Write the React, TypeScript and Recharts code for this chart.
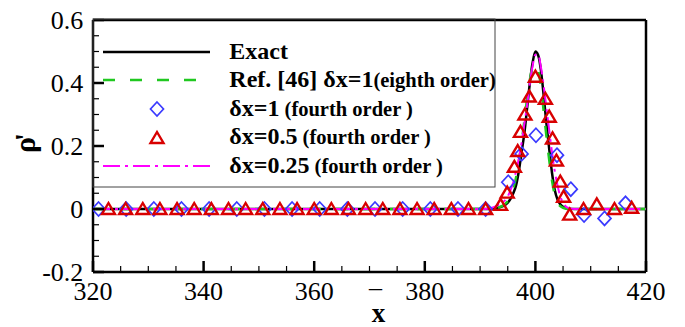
import React from 'react';
import { ComposedChart, Line, Scatter, XAxis, YAxis, ReferenceLine, Legend } from 'recharts';

const FONT = '"Liberation Serif", "Times New Roman", serif';

// Exact solution
const exactX = [320, 392, 393, 394, 395, 395.5, 396, 396.5, 397, 397.5, 398, 398.5, 399, 399.5, 400, 400.5, 401, 401.5, 402, 402.5, 403, 403.5, 404, 404.5, 405, 406, 407, 420];
const exactY = [0, 0, 0.002, 0.008, 0.02, 0.032, 0.05, 0.075, 0.12, 0.18, 0.24, 0.32, 0.4, 0.465, 0.5, 0.488, 0.44, 0.36, 0.27, 0.19, 0.115, 0.06, 0.03, 0.015, 0.007, 0.002, 0, 0];

// Ref. [46] dx=1 (eighth order)
const refX = [320, 392, 393, 394, 395, 395.5, 396, 396.5, 397, 397.5, 398, 398.5, 399, 399.5, 400, 400.5, 401, 401.5, 402, 402.5, 403, 403.5, 404, 405, 406, 420];
const refY = [0, 0, 0.003, 0.01, 0.025, 0.04, 0.065, 0.1, 0.15, 0.21, 0.28, 0.35, 0.41, 0.45, 0.46, 0.44, 0.39, 0.31, 0.23, 0.155, 0.09, 0.045, 0.02, 0.004, 0, 0];

// dx=0.25 (fourth order)
const q25X = [320, 391, 392, 393, 394, 395, 395.5, 396, 396.5, 397, 397.5, 398, 398.5, 399, 399.5, 400, 400.5, 401, 401.5, 402, 402.5, 403, 403.5, 404, 404.5, 405, 405.5, 406, 407, 420];
const q25Y = [0, 0, 0.003, 0.01, 0.02, 0.04, 0.06, 0.085, 0.12, 0.16, 0.21, 0.27, 0.33, 0.4, 0.455, 0.49, 0.49, 0.45, 0.39, 0.32, 0.25, 0.18, 0.12, 0.075, 0.04, 0.02, 0.008, 0.003, 0, 0];

// dx=1 (fourth order) markers
const d1X = [321, 326, 331, 336, 341, 346, 351, 356, 361, 366, 371, 376, 381, 386, 391, 395.1, 397.5, 400.1, 403.9, 406.4, 408.8, 412.5, 416.3];
const d1Y = [0, 0, 0, 0, 0, 0, 0, 0, 0, 0, 0, 0, 0, 0, 0, 0.085, 0.175, 0.234, 0.171, 0.063, -0.019, -0.03, 0.018];

// dx=0.5 (fourth order) markers
const d05X = [322.8, 325.9, 329.0, 332.1, 335.2, 338.3, 341.4, 344.5, 347.6, 350.7, 353.8, 356.9, 360.0, 363.1, 366.2, 369.3, 372.4, 375.5, 378.6, 381.7, 384.8, 387.9, 391.0, 393.7, 394.9, 396.2, 396.8, 397.3, 398.1, 398.9, 400.0, 401.8, 402.5, 403.1, 403.8, 404.5, 405.1, 406.2, 408.7, 411.1, 414.3, 417.4];
const d05Y = [0, 0, 0, 0, 0, 0, 0, 0, 0, 0, 0, 0, 0, 0, 0, 0, 0, 0, 0, 0, 0, 0, 0, 0.013, 0.052, 0.134, 0.184, 0.245, 0.3, 0.357, 0.42, 0.35, 0.293, 0.224, 0.154, 0.087, 0.039, -0.018, 0, 0.015, 0, 0.004];

const xTicks = [320, 325, 330, 335, 340, 345, 350, 355, 360, 365, 370, 375, 380, 385, 390, 395, 400, 405, 410, 415, 420];
const yTicks = [-0.2, -0.15, -0.1, -0.05, 0, 0.05, 0.1, 0.15, 0.2, 0.25, 0.3, 0.35, 0.4, 0.45, 0.5, 0.55, 0.6];
const xLabelTicks = [320, 340, 360, 380, 400, 420];
const yLabelTicks = [-0.2, 0, 0.2, 0.4, 0.6];

const zip = (xs: number[], ys: number[]) => xs.map((x, i) => ({ x, y: ys[i] }));

const exactData = zip(exactX, exactY);
const refData = zip(refX, refY);
const q25Data = zip(q25X, q25Y);
const d1Data = zip(d1X, d1Y);
const d05Data = zip(d05X, d05Y);

const BLUE = '#3a3aff';
const RED = '#d80000';
const GREEN = '#20c820';
const MAGENTA = '#ff00ff';

const diamondPts = (cx: number, cy: number) =>
  `${cx},${cy - 7} ${cx + 6.5},${cy} ${cx},${cy + 7} ${cx - 6.5},${cy}`;
const trianglePts = (cx: number, cy: number) =>
  `${cx},${cy - 6} ${cx + 6.5},${cy + 5} ${cx - 6.5},${cy + 5}`;

const DiamondShape = (p: any) => (
  <polygon points={diamondPts(p.cx, p.cy)} fill="none" stroke={BLUE} strokeWidth={1.7} />
);
const TriangleShape = (p: any) => (
  <polygon points={trianglePts(p.cx, p.cy)} fill="none" stroke={RED} strokeWidth={2.4} />
);

const XTick = (props: any) => {
  const { x, y, payload } = props;
  const v = payload.value;
  const major = xLabelTicks.includes(v);
  return (
    <g>
      <line x1={x} y1={y} x2={x} y2={y - (major ? 11 : 6)} stroke="#000" strokeWidth={major ? 2.5 : 1.2} />
      {major && (
        <text x={x} y={y + 27.5} textAnchor="middle" fontFamily={FONT} fontSize={26} fill="#000">
          {String(v)}
        </text>
      )}
    </g>
  );
};

const YTick = (props: any) => {
  const { x, y, payload } = props;
  const v = payload.value;
  const major = yLabelTicks.includes(v);
  return (
    <g>
      <line x1={x} y1={y} x2={x + (major ? 11 : 6)} y2={y} stroke="#000" strokeWidth={major ? 2.5 : 1.2} />
      {major && (
        <text x={x - 9.7} y={y + 9.3} textAnchor="end" fontFamily={FONT} fontSize={26} fill="#000">
          {String(v)}
        </text>
      )}
    </g>
  );
};

const XLabel = () => (
  <g>
    <text x={369} y={287} fontFamily={FONT} fontSize={26} fill="#000">_</text>
    <text x={378.5} y={321.5} textAnchor="middle" fontFamily={FONT} fontSize={27} fontWeight="bold" fill="#000">x</text>
  </g>
);

const YLabel = () => (
  <g>
    <text x={35} y={145} transform="rotate(-90 35 145)" textAnchor="middle" fontFamily={FONT} fontSize={30} fontWeight="bold" fill="#000">
      ρ
    </text>
    <text x={35} y={137} transform="rotate(-90 35 137)" textAnchor="middle" fontFamily={FONT} fontSize={30} fontWeight="bold" fill="#000">
      '
    </text>
  </g>
);

const LegendBox = () => {
  const tx = 136.3;
  const big = 24;
  const small = 20.5;
  const ts: any = { fontFamily: FONT, fontWeight: 'bold', fill: '#000', whiteSpace: 'pre' };
  return (
    <svg width={410} height={176} style={{ display: 'block', overflow: 'visible' }}>
      <rect x={0} y={1} width={402} height={168} fill="none" stroke="#444" strokeWidth={1} />
      <line x1={10} x2={117} y1={34} y2={34} stroke="#000" strokeWidth={2.5} />
      <line x1={10} x2={117} y1={62} y2={62} stroke={GREEN} strokeWidth={2.5} strokeDasharray="12 15" />
      <polygon points={diamondPts(64, 91)} fill="none" stroke={BLUE} strokeWidth={1.7} />
      <polygon points={trianglePts(64, 120)} fill="none" stroke={RED} strokeWidth={2.4} />
      <line x1={10} x2={117} y1={148} y2={148} stroke={MAGENTA} strokeWidth={2} strokeDasharray="17 5 3 5" />
      <text x={tx} y={41.3} style={ts} fontSize={big}>Exact</text>
      <text x={tx} y={69.3} style={ts}>
        <tspan fontSize={big}>Ref. [46] δx=1</tspan>
        <tspan fontSize={small}>(eighth order)</tspan>
      </text>
      <text x={tx} y={98} style={ts}>
        <tspan fontSize={big}>δx=1</tspan>
        <tspan fontSize={small}> (fourth order )</tspan>
      </text>
      <text x={tx} y={126} style={ts}>
        <tspan fontSize={big}>δx=0.5</tspan>
        <tspan fontSize={small}> (fourth order )</tspan>
      </text>
      <text x={tx} y={155.3} style={ts}>
        <tspan fontSize={big}>δx=0.25</tspan>
        <tspan fontSize={small}> (fourth order )</tspan>
      </text>
    </svg>
  );
};

export default function App() {
  return (
    <div style={{ position: 'absolute', left: 0, top: 0, width: 685, height: 327, background: '#fff' }}>
      <ComposedChart width={685} height={327} margin={{ top: 20, right: 39, bottom: 0, left: 0 }}>
        <XAxis
          dataKey="x"
          type="number"
          domain={[320, 420]}
          ticks={xTicks}
          interval={0}
          allowDataOverflow
          tickSize={0}
          tickMargin={0}
          tickLine={false}
          tick={<XTick />}
          height={55}
          axisLine={{ stroke: '#000', strokeWidth: 2.5 }}
          label={<XLabel />}
        />
        <YAxis
          dataKey="y"
          type="number"
          domain={[-0.2, 0.6]}
          ticks={yTicks}
          interval={0}
          allowDataOverflow
          tickSize={0}
          tickMargin={0}
          tickLine={false}
          tick={<YTick />}
          width={93}
          axisLine={{ stroke: '#000', strokeWidth: 2.5 }}
          label={<YLabel />}
        />
        <ReferenceLine y={0.6} stroke="#000" strokeWidth={2.5} />
        <ReferenceLine x={420} stroke="#000" strokeWidth={2.5} />
        <Line data={exactData} dataKey="y" type="monotone" stroke="#000" strokeWidth={2.5} dot={false} isAnimationActive={false} name="Exact" />
        <Line data={refData} dataKey="y" type="monotone" stroke={GREEN} strokeWidth={2.5} strokeDasharray="12 15" dot={false} isAnimationActive={false} name="Ref" />
        <Scatter data={d1Data} dataKey="y" shape={DiamondShape} isAnimationActive={false} name="dx1" />
        <Scatter data={d05Data} dataKey="y" shape={TriangleShape} isAnimationActive={false} name="dx05" />
        <Line data={q25Data} dataKey="y" type="monotone" stroke={MAGENTA} strokeWidth={2} strokeDasharray="17 5 3 5" dot={false} isAnimationActive={false} name="dx025" />
        <Legend
          layout="vertical"
          align="center"
          verticalAlign="middle"
          content={() => <LegendBox />}
          wrapperStyle={{ left: 93, top: 18, width: 410, height: 176 }}
        />
      </ComposedChart>
    </div>
  );
}
